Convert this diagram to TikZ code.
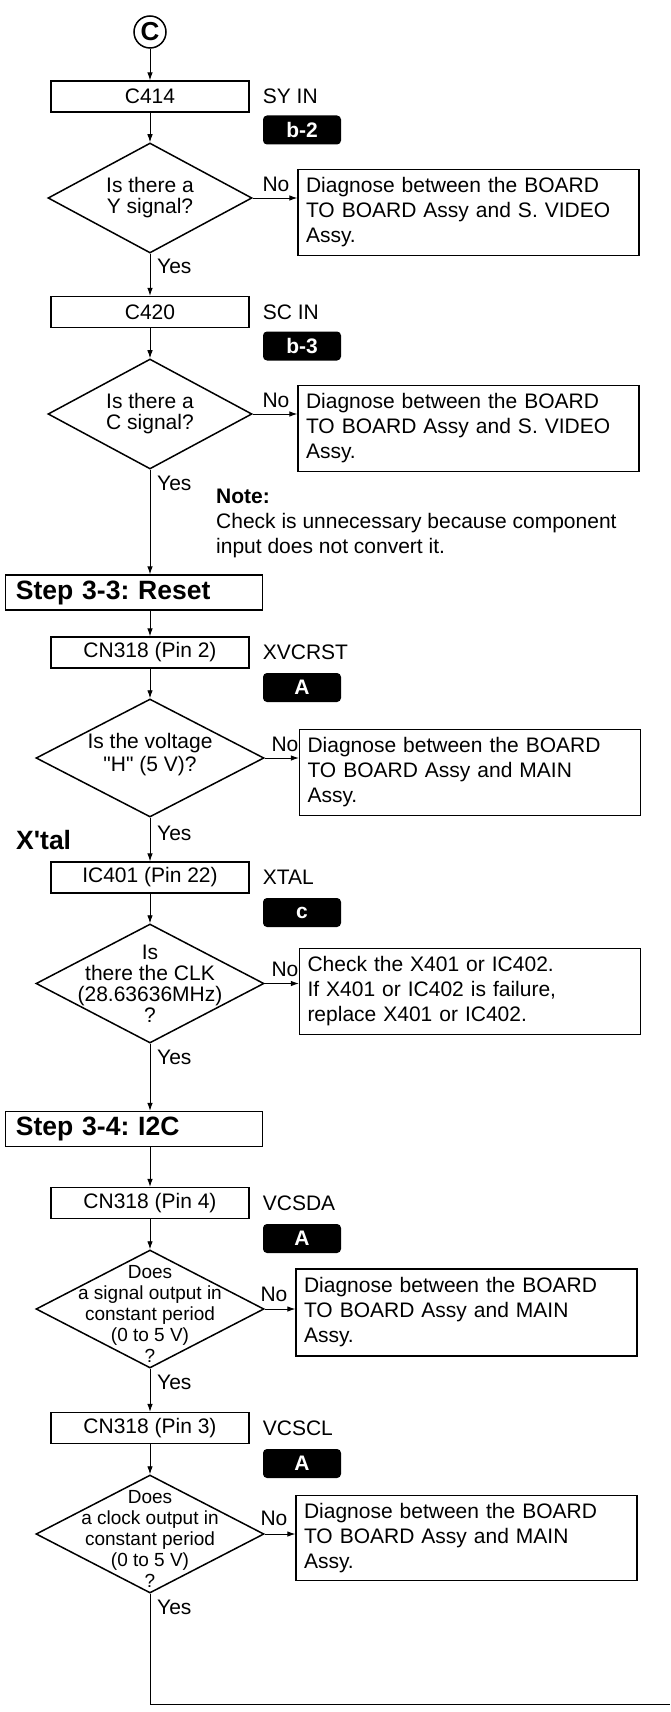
\documentclass[tikz,border=0pt]{standalone}
\usepackage{fontspec}
\setmainfont{Liberation Sans}[Ligatures=TeXOff]
\usetikzlibrary{arrows.meta, positioning, shapes.geometric}
\frenchspacing

\begin{document}
\begin{tikzpicture}[x=1pt,y=-1pt,font=\fontsize{21}{25}\selectfont,
        arr/.style={-{Latex[length=8pt,width=5.5pt]},line width=0.9pt},
        chk/.style={draw,line width=1.3pt,minimum width=198pt,minimum height=31pt,inner sep=0pt},
        ask/.style={draw,diamond,line width=1.5pt,inner sep=0pt,
                    minimum width=228pt,minimum height=118pt},
        asktxt/.style={align=center,inner sep=0pt,font=\fontsize{21}{21}\selectfont},
        res/.style={draw,line width=1.3pt,minimum width=341pt,minimum height=83pt,
                    text width=325pt,align=left,inner sep=8pt},
        tag/.style={fill=black,rounded corners=4pt,minimum width=78pt,minimum height=29pt,
                    inner sep=0pt,text=white,font=\bfseries\fontsize{21}{21}\selectfont},
        head/.style={draw,line width=1.3pt,minimum width=257pt,minimum height=35pt,
                     text width=236pt,align=left,inner xsep=10.5pt,inner ysep=0pt,
                     font=\bfseries\fontsize{26.5}{26.5}\selectfont},
        lbl/.style={inner sep=0pt}]
      \useasboundingbox (0,0) rectangle (670,1712);
      % entry point C
      \node[draw,circle,line width=1.5pt,minimum size=32pt,inner sep=0pt,
            font=\bfseries\fontsize{26}{26}\selectfont] (cc) at (150,32) {C};
      % Y signal
      \node[chk] (b1) at (150,96.5) {C414};
      \node[lbl,right=13pt of b1] (n1) {SY IN};
      \node[tag] (t1) at (302,130) {b-2};
      \node[ask,minimum width=204pt,minimum height=110pt] (q1) at (150,198) {};
      \node[asktxt] at (q1) {Is there a\\Y signal?};
      \node[res] (r1) at (468.5,212.5)
        {Diagnose between the BOARD\\TO BOARD Assy and S. VIDEO\\Assy.};
      \node[lbl] (no1) at (276,184) {No};
      \node[lbl,anchor=west] (ye1) at (157,266) {Yes};
      % C signal
      \node[chk] (b2) at (150,312) {C420};
      \node[lbl,right=13pt of b2] (n2) {SC IN};
      \node[tag] (t2) at (302,346) {b-3};
      \node[ask,minimum width=204pt,minimum height=110pt] (q2) at (150,414) {};
      \node[asktxt] at (q2) {Is there a\\C signal?};
      \node[res] (r2) at (468.5,428.5)
        {Diagnose between the BOARD\\TO BOARD Assy and S. VIDEO\\Assy.};
      \node[lbl] (no2) at (276,400) {No};
      \node[lbl,anchor=west] (ye2) at (157,483) {Yes};
      \node[lbl,anchor=west,align=left] (note) at (216,523)
        {\textbf{Note:}\\Check is unnecessary because component\\input does not convert it.};
      % Step 3-3
      \node[head] (s33) at (134,592.5) {Step 3-3: Reset};
      \node[chk] (b3) at (150,652.5) {CN318 (Pin 2)};
      \node[lbl,right=13pt of b3] (n3) {XVCRST};
      \node[tag] (t3) at (302,687.5) {A};
      \node[ask] (q3) at (150,758) {};
      \node[asktxt,font=\fontsize{21}{23}\selectfont] at ([yshift=3pt]q3) {Is the voltage\\"H" (5 V)?};
      \node[res] (r3) at (470,772.5)
        {Diagnose between the BOARD\\TO BOARD Assy and MAIN\\Assy.};
      \node[lbl] (no3) at (285,744) {No};
      \node[lbl,anchor=west] (ye3) at (157,833) {Yes};
      \node[lbl,anchor=west,font=\bfseries\fontsize{26.5}{26.5}\selectfont] (xt) at (16,840) {X'tal};
      \node[chk] (b4) at (150,877.5) {IC401 (Pin 22)};
      \node[lbl,right=13pt of b4] (n4) {XTAL};
      \node[tag] (t4) at (302,912.5) {c};
      \node[ask,minimum height=119pt] (q4) at (150,983.5) {};
      \node[asktxt] at (q4) {Is\\there the CLK\\(28.63636MHz)\\?};
      \node[res,minimum height=85pt] (r4) at (470,991.5)
        {Check the X401 or IC402.\\If X401 or IC402 is failure,\\replace X401 or IC402.};
      \node[lbl] (no4) at (285,969) {No};
      \node[lbl,anchor=west] (ye4) at (157,1057) {Yes};
      % Step 3-4
      \node[head] (s34) at (134,1129) {Step 3-4: I2C};
      \node[chk] (b5) at (150,1203) {CN318 (Pin 4)};
      \node[lbl,right=13pt of b5] (n5) {VCSDA};
      \node[tag] (t5) at (302,1238.5) {A};
      \node[ask] (q5) at (150,1309) {};
      \node[asktxt,font=\fontsize{19}{21}\selectfont] at ([yshift=-5pt]q5)
        {Does\\a signal output in\\constant period\\(0 to 5 V)\\?};
      \node[res,minimum height=87pt] (r5) at (466.5,1312.5)
        {Diagnose between the BOARD\\TO BOARD Assy and MAIN\\Assy.};
      \node[lbl] (no5) at (274,1294) {No};
      \node[lbl,anchor=west] (ye5) at (157,1382) {Yes};
      \node[chk] (b6) at (150,1428) {CN318 (Pin 3)};
      \node[lbl,right=13pt of b6] (n6) {VCSCL};
      \node[tag] (t6) at (302,1463.5) {A};
      \node[ask] (q6) at (150,1534) {};
      \node[asktxt,font=\fontsize{19}{21}\selectfont] at ([yshift=-5pt]q6)
        {Does\\a clock output in\\constant period\\(0 to 5 V)\\?};
      \node[res,minimum height=84pt] (r6) at (466.5,1538)
        {Diagnose between the BOARD\\TO BOARD Assy and MAIN\\Assy.};
      \node[lbl] (no6) at (274,1518) {No};
      \node[lbl,anchor=west] (ye6) at (157,1607) {Yes};
      \coordinate (out) at (670,1704);
      % connectors
      \draw[arr] (cc) -- (b1);
      \draw[arr] (b1) -- (q1);
      \draw[arr] (q1.east) -- (q1.east -| r1.west);
      \draw[arr] (q1) -- (b2);
      \draw[arr] (b2) -- (q2);
      \draw[arr] (q2.east) -- (q2.east -| r2.west);
      \draw[arr] (q2.south) -- (q2.south |- s33.north);
      \draw[arr] (s33.south -| b3.north) -- (b3.north);
      \draw[arr] (b3) -- (q3);
      \draw[arr] (q3.east) -- (q3.east -| r3.west);
      \draw[arr] (q3) -- (b4);
      \draw[arr] (b4) -- (q4);
      \draw[arr] (q4.east) -- (q4.east -| r4.west);
      \draw[arr] (q4.south) -- (q4.south |- s34.north);
      \draw[arr] (s34.south -| b5.north) -- (b5.north);
      \draw[arr] (b5) -- (q5);
      \draw[arr] (q5.east) -- (q5.east -| r5.west);
      \draw[arr] (q5) -- (b6);
      \draw[arr] (b6) -- (q6);
      \draw[arr] (q6.east) -- (q6.east -| r6.west);
      \draw[line width=0.9pt] (q6.south) |- (out);
    \end{tikzpicture}
\end{document}
